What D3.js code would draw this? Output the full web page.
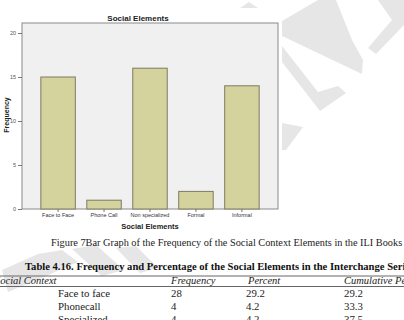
<!DOCTYPE html>
<html>
<head>
<meta charset="utf-8">
<script src="https://cdn.jsdelivr.net/npm/d3@7"></script>
<style>
  body { margin: 0; background: #fff; }
  svg { display: block; }
</style>
</head>
<body>
<div id="chart"></div>
<script>
// chart data
const categories = ["Face to Face", "Phone Call", "Non specialized", "Formal", "Informal"];
const frequency = [15, 1, 16, 2, 14];
const yTicks = [0, 5, 10, 15, 20];

// table below the figure
const tableHeader = ["Social Context", "Frequency", "Percent", "Cumulative Percent"];
const tableContext = ["Face to face", "Phonecall", "Specialized"];
const tableFreq = ["28", "4", "4"];
const tablePercent = ["29.2", "4.2", "4.2"];
const tableCumulative = ["29.2", "33.3", "37.5"];

const W = 404, H = 320;
const plot = {left: 22, top: 23, right: 278, bottom: 209};

const svg = d3.select("#chart").append("svg")
    .attr("width", W)
    .attr("height", H);

// faint watermark behind everything
const mark = svg.append("g").attr("fill", "#e6e6e6");
const shapes = [
    [[240,8],[249,2],[258,8]],
    [[282,21],[318,0],[336,0],[352,40],[363,60],[362,74],[282,36]],
    [[378,0],[404,0],[404,25],[376,54],[368,48],[392,20]],
    [[282,46],[318,92],[338,86],[346,93],[320,111],[282,62]],
    [[282,123],[303,127],[286,150],[282,150]],
    [[2,270],[38,254],[62,250],[78,262],[32,282],[8,292]],
    [[72,249],[96,245],[124,270],[102,276]],
    [[116,248],[136,246],[158,268],[140,273]]
];
mark.selectAll("path").data(shapes).enter()
    .append("path")
    .attr("d", d => "M" + d.join("L") + "Z");

// scales
const x = d3.scaleBand()
    .domain(categories)
    .range([plot.left, plot.right])
    .paddingInner(0.25)
    .paddingOuter(0.41);

const y = d3.scaleLinear()
    .domain([0, 20])
    .range([plot.bottom, 33]);

// plot background
svg.append("rect")
    .attr("x", plot.left)
    .attr("y", plot.top)
    .attr("width", plot.right - plot.left)
    .attr("height", plot.bottom - plot.top)
    .attr("fill", "#f0f0f0")
    .attr("stroke", "#8a8a8a")
    .attr("stroke-width", 1);

// bars
svg.selectAll(".bar")
    .data(frequency)
    .enter()
    .append("rect")
    .attr("class", "bar")
    .attr("x", (d, i) => x(categories[i]))
    .attr("y", d => y(d))
    .attr("width", x.bandwidth())
    .attr("height", d => y(0) - y(d))
    .attr("fill", "#d4d29d")
    .attr("stroke", "#7e7b62")
    .attr("stroke-width", 1);

// y axis
const yAxis = svg.append("g")
    .attr("transform", `translate(${plot.left},0)`)
    .call(d3.axisLeft(y).tickValues(yTicks).tickSize(4).tickPadding(2));
yAxis.select(".domain").remove();
yAxis.selectAll("line").attr("stroke", "#777");
yAxis.selectAll("text")
    .attr("font-family", "Liberation Sans, Arial, sans-serif")
    .attr("font-size", "5.5px")
    .attr("fill", "#555");

// x axis
const xAxis = svg.append("g")
    .attr("transform", `translate(0,${plot.bottom})`)
    .call(d3.axisBottom(x).tickSize(3).tickPadding(1.5));
xAxis.select(".domain").remove();
xAxis.selectAll("line").attr("stroke", "#777");
xAxis.selectAll("text")
    .attr("font-family", "Liberation Sans, Arial, sans-serif")
    .attr("font-size", "5.5px")
    .attr("fill", "#333");

// titles
svg.append("text")
    .text("Social Elements")
    .attr("x", 138).attr("y", 20.5)
    .attr("text-anchor", "middle")
    .attr("font-family", "Liberation Sans, Arial, sans-serif")
    .attr("font-weight", "bold")
    .attr("font-size", "8px")
    .attr("fill", "#222");

svg.append("text")
    .text("Social Elements")
    .attr("x", 150).attr("y", 228.5)
    .attr("text-anchor", "middle")
    .attr("font-family", "Liberation Sans, Arial, sans-serif")
    .attr("font-weight", "bold")
    .attr("font-size", "7.5px")
    .attr("fill", "#222");

svg.append("text")
    .text("Frequency")
    .attr("transform", "translate(8.5,115) rotate(-90)")
    .attr("text-anchor", "middle")
    .attr("font-family", "Liberation Sans, Arial, sans-serif")
    .attr("font-weight", "bold")
    .attr("font-size", "7px")
    .attr("fill", "#222");

// caption
const serif = "Liberation Serif, Times New Roman, serif";
svg.append("text")
    .text("Figure 7Bar Graph of the Frequency of the Social Context Elements in the ILI Books")
    .attr("x", 51).attr("y", 246)
    .attr("font-family", serif)
    .attr("font-size", "10.3px")
    .attr("fill", "#222");

svg.append("text")
    .text("Table 4.16. Frequency and Percentage of the Social Elements in the Interchange Series")
    .attr("x", 25).attr("y", 270)
    .attr("font-family", serif)
    .attr("font-weight", "bold")
    .attr("font-size", "10.6px")
    .attr("fill", "#111");

// table rules
svg.selectAll(".rule")
    .data([276, 286.5])
    .enter()
    .append("line")
    .attr("x1", 0).attr("x2", W)
    .attr("y1", d => d).attr("y2", d => d)
    .attr("stroke", "#666")
    .attr("stroke-width", 1);

const colX = [-5, 171, 248, 344];
svg.selectAll(".head")
    .data(tableHeader)
    .enter()
    .append("text")
    .text(d => d)
    .attr("x", (d, i) => colX[i])
    .attr("y", 284)
    .attr("font-family", serif)
    .attr("font-style", "italic")
    .attr("font-size", "10.5px")
    .attr("fill", "#222");

const rowY = d3.scaleLinear().domain([0, 1]).range([297, 310]);
const cells = [];
tableContext.forEach((c, i) => {
    cells.push({t: c, x: 58, i: i});
    cells.push({t: tableFreq[i], x: colX[1], i: i});
    cells.push({t: tablePercent[i], x: 246, i: i});
    cells.push({t: tableCumulative[i], x: colX[3], i: i});
});
svg.selectAll(".cell")
    .data(cells)
    .enter()
    .append("text")
    .text(d => d.t)
    .attr("x", d => d.x)
    .attr("y", d => rowY(d.i))
    .attr("font-family", serif)
    .attr("font-size", "10.8px")
    .attr("fill", "#222");
</script>
</body>
</html>
